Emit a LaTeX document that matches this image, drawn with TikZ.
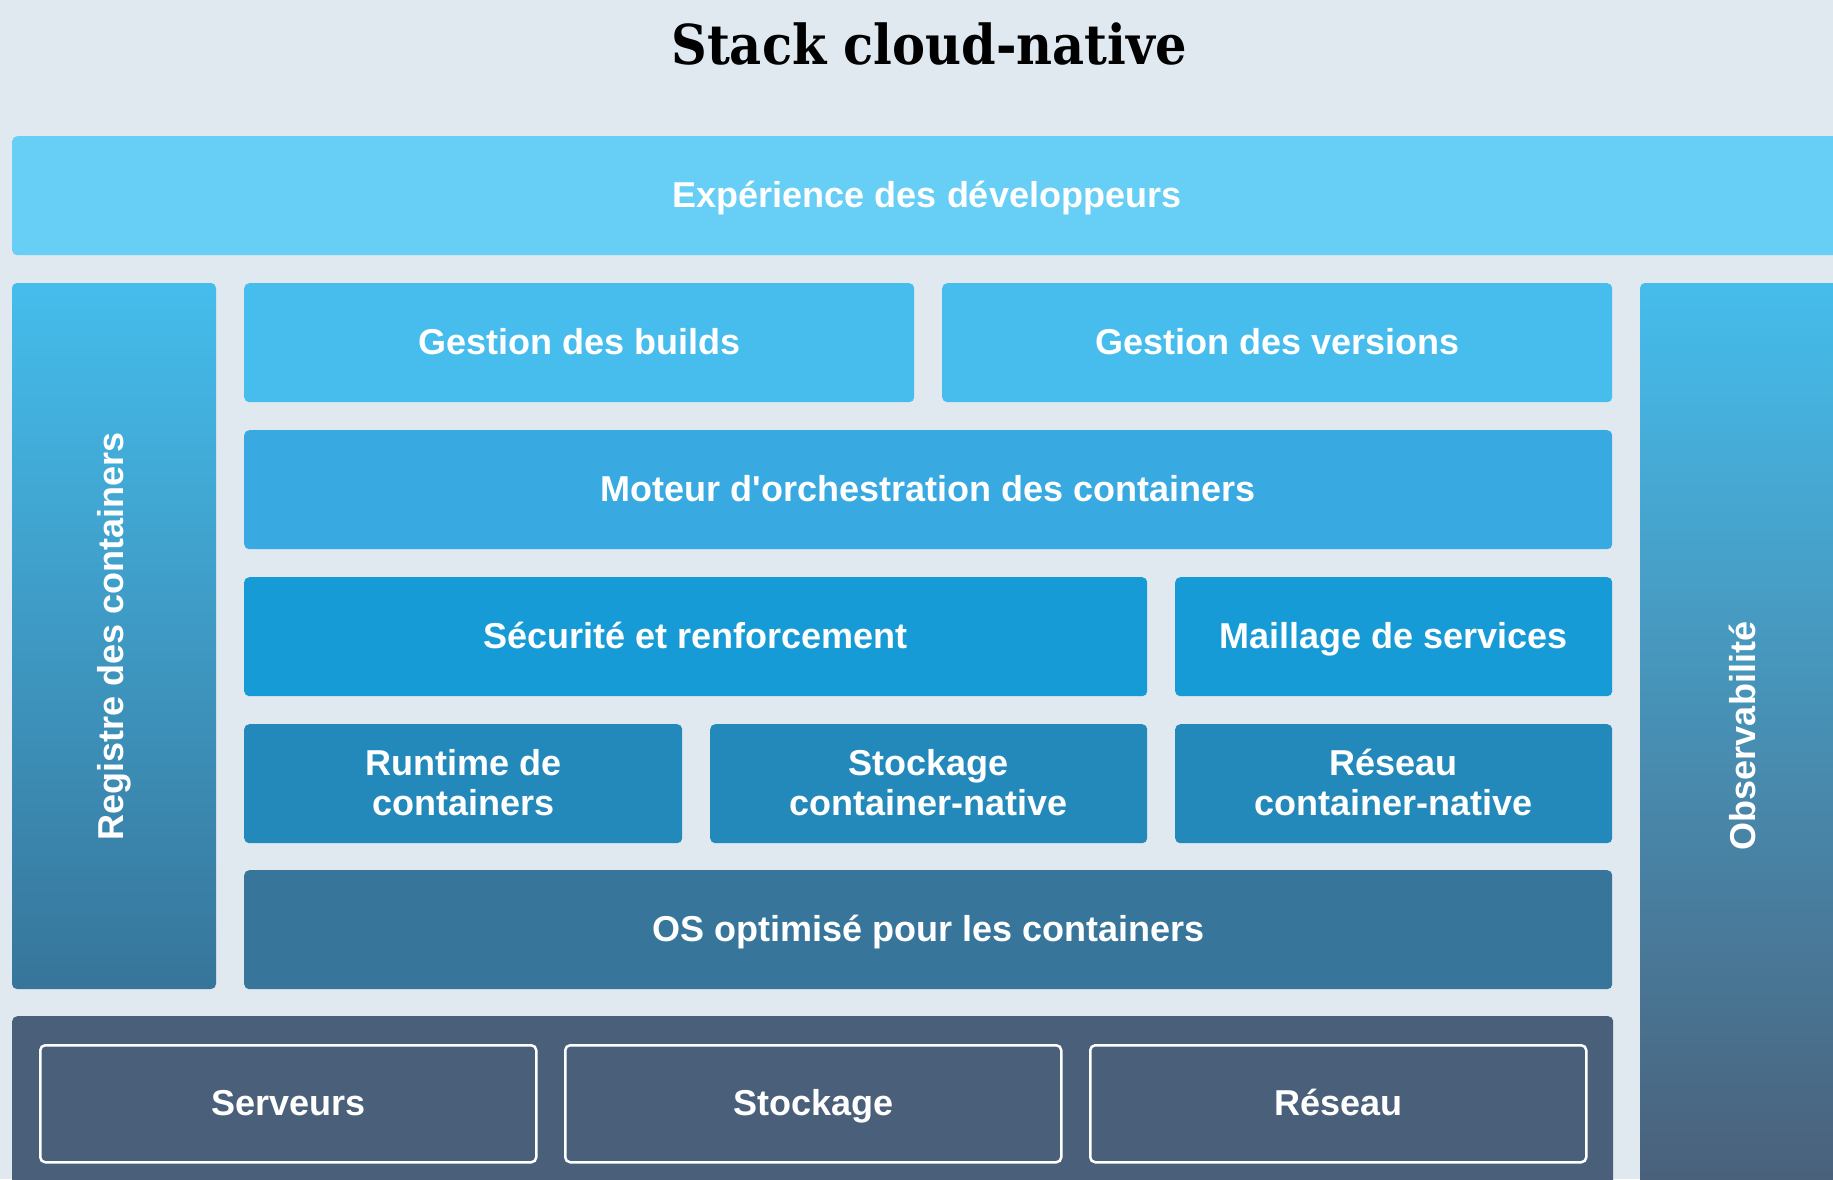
\documentclass[tikz,border=0pt]{standalone}
\usepackage{fontspec}
\setmainfont{Liberation Sans}[Ligatures=TeXOff]
\newfontfamily\titlefont{DejaVu Serif Condensed}
% fixed line box so caps sit on the same centre line in every layer
\newcommand\lnbox{\rule[-7pt]{0pt}{38pt}}
\begin{document}
\begin{tikzpicture}[x=1pt,y=-1pt]
% palette
\definecolor{bgc}{RGB}{224,232,240}
\definecolor{devx}{RGB}{103,206,245}
\definecolor{lvlA}{RGB}{71,189,237}
\definecolor{lvlB}{RGB}{56,170,225}
\definecolor{lvlC}{RGB}{22,155,214}
\definecolor{lvlD}{RGB}{35,137,187}
\definecolor{lvlE}{RGB}{55,117,154}
\definecolor{infra}{RGB}{74,96,122}
\definecolor{colTop}{RGB}{69,189,236}

\tikzset{
  layer/.style={rounded corners=5pt, inner sep=0pt, align=center,
    text=white, font=\fontsize{36}{40}\selectfont\bfseries},
  hwbox/.style={layer, draw=white, line width=2.5pt},
  sidelabel/.style={text=white, rotate=90, inner sep=0pt,
    font=\fontsize{36}{40}\selectfont\bfseries},
}

\useasboundingbox (0,0) rectangle (1833,1179);
\fill[bgc] (0,0) rectangle (1833,1179);

% title
\node[font=\titlefont\fontsize{55}{60}\selectfont\bfseries] (title) at (929,44) {Stack cloud-native};

% developer experience band
\node[layer, fill=devx, anchor=north west, minimum width=1833pt, minimum height=119pt] (devx) at (12,136) {};
\node[layer] (devxlbl) at (927,196) {\lnbox Expérience des développeurs};

% side columns with vertical shading
\shade[top color=colTop, bottom color=lvlE, rounded corners=5pt] (12,283) rectangle (216,989);
\coordinate (regc) at (114,636);
\node[sidelabel] (reg) at (regc) {Registre des containers};

\shade[top color=colTop, bottom color=infra, rounded corners=5pt] (1640,283) rectangle (1845,1185);
\coordinate (obsc) at (1742,736);
\node[sidelabel] (obs) at (obsc) {Observabilité};

% stacked layers
\node[layer, fill=lvlA, anchor=north west, minimum width=670pt, minimum height=119pt] (builds) at (244,283) {\lnbox Gestion des builds};
\node[layer, fill=lvlA, anchor=north west, minimum width=670pt, minimum height=119pt] (versions) at (942,283) {\lnbox Gestion des versions};

\node[layer, fill=lvlB, anchor=north west, minimum width=1368pt, minimum height=119pt] (orch) at (244,430) {\lnbox Moteur d'orchestration des containers};

\node[layer, fill=lvlC, anchor=north west, minimum width=903pt, minimum height=119pt] (sec) at (244,577) {\lnbox Sécurité et renforcement};
\node[layer, fill=lvlC, anchor=north west, minimum width=437pt, minimum height=119pt] (mesh) at (1175,577) {\lnbox Maillage de services};

\node[layer, fill=lvlD, anchor=north west, minimum width=438pt, minimum height=119pt] (runtime) at (244,724) {\lnbox Runtime de\\\lnbox containers};
\node[layer, fill=lvlD, anchor=north west, minimum width=437pt, minimum height=119pt] (storage) at (710,724) {\lnbox Stockage\\\lnbox container-native};
\node[layer, fill=lvlD, anchor=north west, minimum width=437pt, minimum height=119pt] (network) at (1175,724) {\lnbox Réseau\\\lnbox container-native};

\node[layer, fill=lvlE, anchor=north west, minimum width=1368pt, minimum height=119pt] (os) at (244,870) {\lnbox OS optimisé pour les containers};

% infrastructure
\node[layer, fill=infra, anchor=north west, minimum width=1601pt, minimum height=175pt] (infra) at (12,1016) {};
\node[hwbox, anchor=north west, minimum width=496pt, minimum height=117pt] (srv) at (39,1044) {\lnbox Serveurs};
\node[hwbox, anchor=north west, minimum width=496pt, minimum height=117pt] (hwsto) at (564,1044) {\lnbox Stockage};
\node[hwbox, anchor=north west, minimum width=496pt, minimum height=117pt] (hwnet) at (1089,1044) {\lnbox Réseau};
\end{tikzpicture}
\end{document}
